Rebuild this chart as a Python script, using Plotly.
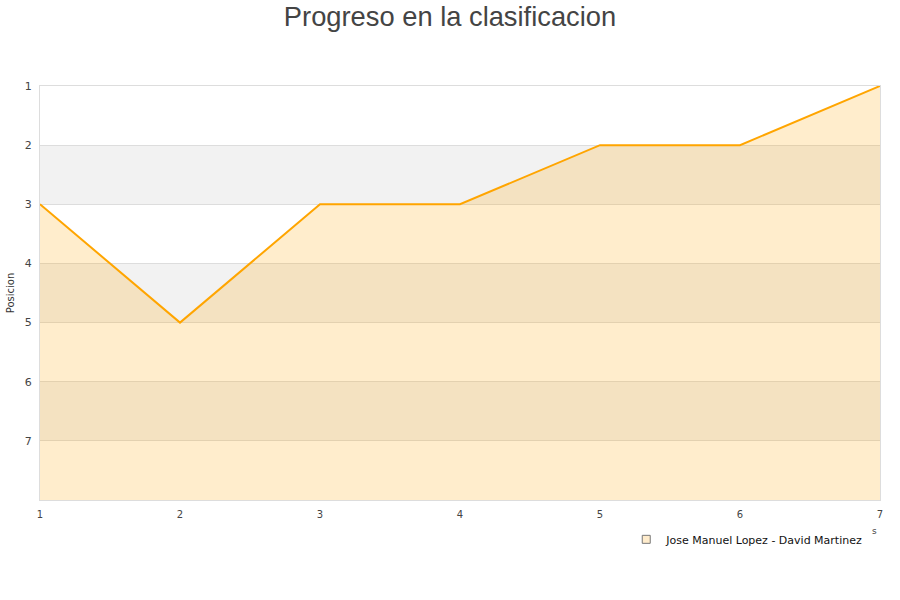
import plotly.graph_objects as go

jornadas = [1, 2, 3, 4, 5, 6, 7]
posiciones = [3, 5, 3, 3, 2, 2, 1]
serie = "Jose Manuel Lopez - David Martinez"
y_ticks = [1, 2, 3, 4, 5, 6, 7]
y_min, y_max = 1, 8

fill_col = "rgba(255,165,0,0.2)"
line_col = "#ffa500"

fig = go.Figure()

# alternating bands
for lo in [2, 4, 6]:
    fig.add_shape(type="rect", xref="paper", yref="y", x0=0, x1=1, y0=lo, y1=lo + 1,
                  fillcolor="#f2f2f2", line_width=0, layer="below")

fig.add_trace(go.Scatter(x=jornadas, y=[y_max] * len(jornadas), mode="lines",
                         line=dict(width=0), showlegend=False, hoverinfo="skip"))
fig.add_trace(go.Scatter(x=jornadas, y=posiciones, mode="lines", fill="tonexty",
                         fillcolor=fill_col, line=dict(color=line_col, width=2),
                         name=serie, showlegend=False))
fig.add_trace(go.Scatter(x=[None], y=[None], mode="markers", name=serie,
                         marker=dict(symbol="square", size=8, color="#ffeccc",
                                     line=dict(color="#777", width=1))))

fig.update_layout(
    width=900, height=600,
    margin=dict(l=40, r=20, t=86, b=100, autoexpand=False),
    paper_bgcolor="white", plot_bgcolor="white",
    title=dict(text="Progreso en la clasificacion", x=0.5, xanchor="center",
               y=0.9733, yref="container", yanchor="middle",
               font=dict(family="Liberation Sans", size=27.3, color="#444")),
    font=dict(family="DejaVu Sans", size=11, color="#444"),
    showlegend=True,
    legend=dict(x=0.986, xanchor="right", y=-0.06, yanchor="top", orientation="h",
                font=dict(family="DejaVu Sans", size=11, color="#111"), bgcolor="rgba(0,0,0,0)"),
    xaxis=dict(range=[1, 7], tickvals=jornadas, showgrid=False, zeroline=False,
               showline=True, linecolor="#ddd", mirror=True, ticks="outside", ticklen=5,
               tickcolor="rgba(0,0,0,0)", automargin=False,
               tickfont=dict(size=10, color="#444")),
    yaxis=dict(range=[y_max, y_min], tickvals=y_ticks, showgrid=True, gridcolor="#ddd",
               zeroline=False, showline=True, linecolor="#ddd", mirror=True,
               ticks="outside", ticklen=5, tickcolor="rgba(0,0,0,0)", automargin=False,
               title=dict(text="Posicion", font=dict(size=10, color="#333"), standoff=8),
               tickfont=dict(size=11, color="#444")),
)

fig.add_annotation(xref="paper", yref="paper", x=0.994, y=-0.075, text="s", showarrow=False,
                   font=dict(size=9, color="#444"), xanchor="center", yanchor="middle")

fig.write_html("out.html", config={"displayModeBar": False},
               post_script="document.body.style.margin='0';")
